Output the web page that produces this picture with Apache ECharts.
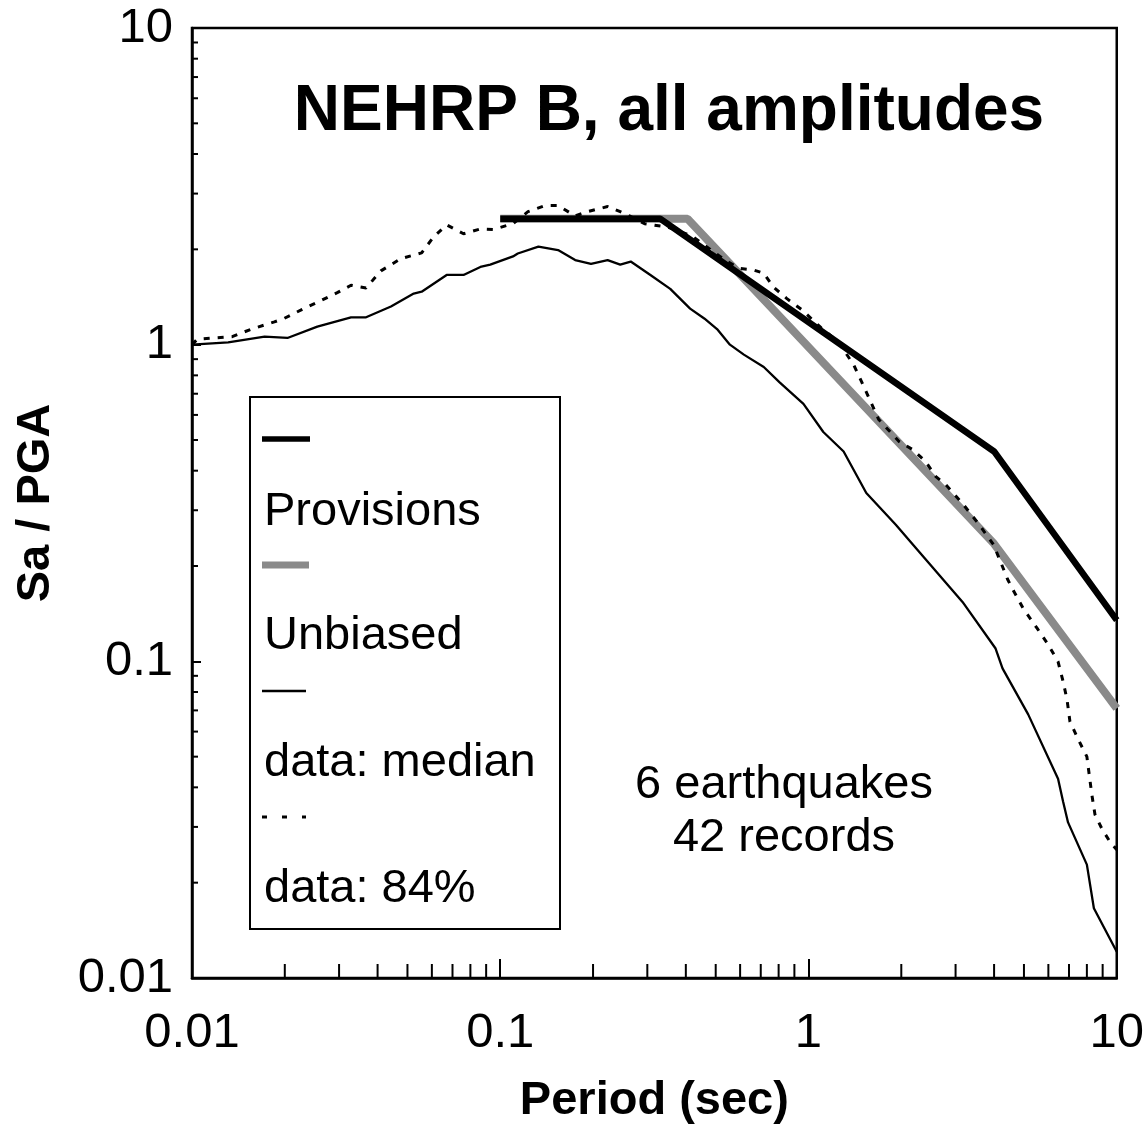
<!DOCTYPE html>
<html>
<head>
<meta charset="utf-8">
<script src="https://cdn.jsdelivr.net/npm/echarts@6/dist/echarts.min.js"></script>
<style>
html,body{margin:0;padding:0;background:#fff;}
#chart{width:1147px;height:1134px;}
</style>
</head>
<body>
<div id="chart"></div>
<script>
// ---------------- data ----------------
const xTickLabels = ['0.01', '0.1', '1', '10'];
const yTickLabels = ['0.01', '0.1', '1', '10'];

// NEHRP Provisions (thick black)
const provPeriod = [0.1, 0.33, 4.0, 10];
const provSa     = [2.5, 2.5, 0.46, 0.135];

// Unbiased (grey band)
const unbPeriod = [0.1, 0.405, 4.0, 10];
const unbSa     = [2.5, 2.5, 0.235, 0.071];

// data: median (thin solid)
const medPeriod = [0.01, 0.0131, 0.0172, 0.0204, 0.0255, 0.0328, 0.0367, 0.0442, 0.0524, 0.0556,
  0.067, 0.076, 0.0862, 0.0928, 0.110, 0.114, 0.133, 0.154, 0.175, 0.197,
  0.223, 0.245, 0.265, 0.307, 0.356, 0.413, 0.459, 0.505, 0.556, 0.617,
  0.716, 0.806, 0.963, 1.117, 1.30, 1.54, 1.92, 2.18, 3.16, 4.04,
  4.26, 5.16, 6.45, 6.70, 6.95, 8.0, 8.43, 10];
const medSa = [1.0, 1.017, 1.06, 1.05, 1.14, 1.22, 1.22, 1.32, 1.45, 1.47,
  1.66, 1.66, 1.76, 1.79, 1.90, 1.94, 2.04, 1.99, 1.85, 1.80,
  1.85, 1.79, 1.83, 1.66, 1.50, 1.30, 1.21, 1.12, 1.0, 0.93,
  0.85, 0.76, 0.65, 0.53, 0.46, 0.34, 0.27, 0.234, 0.154, 0.11,
  0.095, 0.068, 0.0426, 0.036, 0.031, 0.0228, 0.0166, 0.0121];

// data: 84% (dotted)
const p84Period = [0.01, 0.0104, 0.0135, 0.0156, 0.0185, 0.0199, 0.0227, 0.0255, 0.0296, 0.0328,
  0.0367, 0.041, 0.0476, 0.0556, 0.0608, 0.067, 0.076, 0.0862, 0.0949, 0.110,
  0.123, 0.140, 0.154, 0.175, 0.192, 0.223, 0.245, 0.265, 0.294, 0.35,
  0.42, 0.48, 0.545, 0.60, 0.665, 0.716, 0.77, 0.849, 0.95, 1.1,
  1.25, 1.40, 1.50, 1.69, 1.97, 2.18, 2.40, 2.59, 2.79, 3.16,
  3.56, 3.98, 4.2, 4.42, 4.58, 4.97, 5.52, 5.99, 6.45, 6.70,
  6.9, 7.05, 7.48, 8.0, 8.3, 8.5, 8.95, 9.49, 10];
const p84Sa = [1.0, 1.04, 1.06, 1.12, 1.18, 1.21, 1.29, 1.36, 1.46, 1.54,
  1.51, 1.71, 1.87, 1.95, 2.19, 2.39, 2.24, 2.32, 2.31, 2.41,
  2.63, 2.75, 2.75, 2.55, 2.63, 2.73, 2.63, 2.54, 2.41, 2.35,
  2.2, 2.0, 1.83, 1.74, 1.72, 1.68, 1.52, 1.40, 1.29, 1.13,
  1.02, 0.865, 0.75, 0.58, 0.494, 0.466, 0.427, 0.383, 0.361, 0.315,
  0.272, 0.234, 0.206, 0.182, 0.17, 0.147, 0.127, 0.113, 0.0998, 0.0863,
  0.0755, 0.0645, 0.057, 0.05, 0.038, 0.0328, 0.0296, 0.027, 0.0254];

const legendNames = ['Provisions', 'Unbiased', 'data: median', 'data: 84%'];
const titleText = 'NEHRP B, all amplitudes';
const noteLines = ['6 earthquakes', '42 records'];

// ---------------- helpers ----------------
const FONT = "'Liberation Sans', Arial, Helvetica, sans-serif";
const zip = (a, b) => a.map((v, i) => [v, b[i]]);
const minorValues = [];
[0.01, 0.1, 1].forEach(d => { for (let k = 2; k <= 9; k++) minorValues.push(+(d * k).toPrecision(3)); });

const GREY = '#8a8a8a';
const chart = echarts.init(document.getElementById('chart'), null, {renderer: 'canvas'});

const option = {
  backgroundColor: '#ffffff',
  animation: false,
  grid: {left: 192, right: 25, top: 28, bottom: 156, show: true, borderColor: '#000', borderWidth: 2.5, containLabel: false},
  xAxis: {
    type: 'log', logBase: 10, min: 0.01, max: 10,
    name: 'Period (sec)', nameLocation: 'middle', nameGap: 100,
    nameTextStyle: {fontFamily: FONT, fontWeight: 'bold', fontSize: 47, color: '#000'},
    axisLine: {show: true, lineStyle: {color: '#000', width: 2.5}},
    axisTick: {show: true, inside: true, length: 19, lineStyle: {color: '#000', width: 2}},
    splitLine: {show: false},
    axisLabel: {
      fontFamily: FONT, fontSize: 49, color: '#000', margin: 31,
      formatter: v => xTickLabels[Math.round(Math.log10(v)) + 2]
    }
  },
  yAxis: {
    type: 'log', logBase: 10, min: 0.01, max: 10,
    name: 'Sa / PGA', nameLocation: 'middle', nameGap: 132, nameRotate: 90,
    nameTextStyle: {fontFamily: FONT, fontWeight: 'bold', fontSize: 47, color: '#000'},
    axisLine: {show: true, lineStyle: {color: '#000', width: 2.5}},
    axisTick: {show: true, inside: true, length: 9, lineStyle: {color: '#000', width: 2}},
    splitLine: {show: false},
    axisLabel: {
      fontFamily: FONT, fontSize: 49, color: '#000', margin: 19,
      formatter: v => yTickLabels[Math.round(Math.log10(v)) + 2]
    }
  },
  series: [
    {
      name: 'minorX', type: 'custom', silent: true, clip: false, z: 1,
      data: minorValues.map(v => [v, 1]),
      renderItem: (params, api) => {
        const p = api.coord([api.value(0), 0.01]);
        return {type: 'line', shape: {x1: p[0], y1: p[1], x2: p[0], y2: p[1] - 14}, style: {stroke: '#000', lineWidth: 2}};
      }
    },
    {
      name: 'minorY', type: 'custom', silent: true, clip: false, z: 1,
      data: minorValues.map(v => [1, v]),
      renderItem: (params, api) => {
        const p = api.coord([0.01, api.value(1)]);
        return {type: 'line', shape: {x1: p[0], y1: p[1], x2: p[0] + 6, y2: p[1]}, style: {stroke: '#000', lineWidth: 2}};
      }
    },
    {
      name: legendNames[1], type: 'line', showSymbol: false, symbol: 'none', z: 2,
      data: zip(unbPeriod, unbSa),
      lineStyle: {color: GREY, width: 8}
    },
    {
      name: legendNames[0], type: 'line', showSymbol: false, symbol: 'none', z: 3,
      data: zip(provPeriod, provSa),
      lineStyle: {color: '#000', width: 6.5}
    },
    {
      name: legendNames[2], type: 'line', showSymbol: false, symbol: 'none', z: 4,
      data: zip(medPeriod, medSa),
      lineStyle: {color: '#000', width: 2.3}
    },
    {
      name: legendNames[3], type: 'line', showSymbol: false, symbol: 'none', z: 5,
      data: zip(p84Period, p84Sa),
      lineStyle: {color: '#000', width: 3, type: [6, 8]}
    }
  ],
  graphic: [
    {type: 'text', x: 669, y: 112, z: 10,
      style: {text: titleText, fontFamily: FONT, fontWeight: 'bold', fontSize: 64, fill: '#000', textAlign: 'center', textVerticalAlign: 'middle'}},
    {type: 'text', x: 784, y: 785, z: 10,
      style: {text: noteLines[0], fontFamily: FONT, fontSize: 47, fill: '#000', textAlign: 'center', textVerticalAlign: 'middle'}},
    {type: 'text', x: 784, y: 838, z: 10,
      style: {text: noteLines[1], fontFamily: FONT, fontSize: 47, fill: '#000', textAlign: 'center', textVerticalAlign: 'middle'}},
    // legend box
    {type: 'rect', z: 10, shape: {x: 250, y: 397, width: 310, height: 532},
      style: {fill: '#fff', stroke: '#000', lineWidth: 2}},
    {type: 'line', z: 11, shape: {x1: 262, y1: 439, x2: 310, y2: 439}, style: {stroke: '#000', lineWidth: 5.5}},
    {type: 'text', z: 11, x: 264, y: 512, style: {text: legendNames[0], fontFamily: FONT, fontSize: 47, fill: '#000', textVerticalAlign: 'middle'}},
    {type: 'line', z: 11, shape: {x1: 262, y1: 565, x2: 309, y2: 565}, style: {stroke: GREY, lineWidth: 7}},
    {type: 'text', z: 11, x: 264, y: 636, style: {text: legendNames[1], fontFamily: FONT, fontSize: 47, fill: '#000', textVerticalAlign: 'middle'}},
    {type: 'line', z: 11, shape: {x1: 262, y1: 691, x2: 306, y2: 691}, style: {stroke: '#000', lineWidth: 2.3}},
    {type: 'text', z: 11, x: 264, y: 763, style: {text: legendNames[2], fontFamily: FONT, fontSize: 47, fill: '#000', textVerticalAlign: 'middle'}},
    {type: 'line', z: 11, shape: {x1: 262, y1: 817, x2: 306, y2: 817}, style: {stroke: '#000', lineWidth: 3, lineDash: [5, 15]}},
    {type: 'text', z: 11, x: 264, y: 889, style: {text: legendNames[3], fontFamily: FONT, fontSize: 47, fill: '#000', textVerticalAlign: 'middle'}}
  ]
};
chart.setOption(option);
</script>
</body>
</html>
